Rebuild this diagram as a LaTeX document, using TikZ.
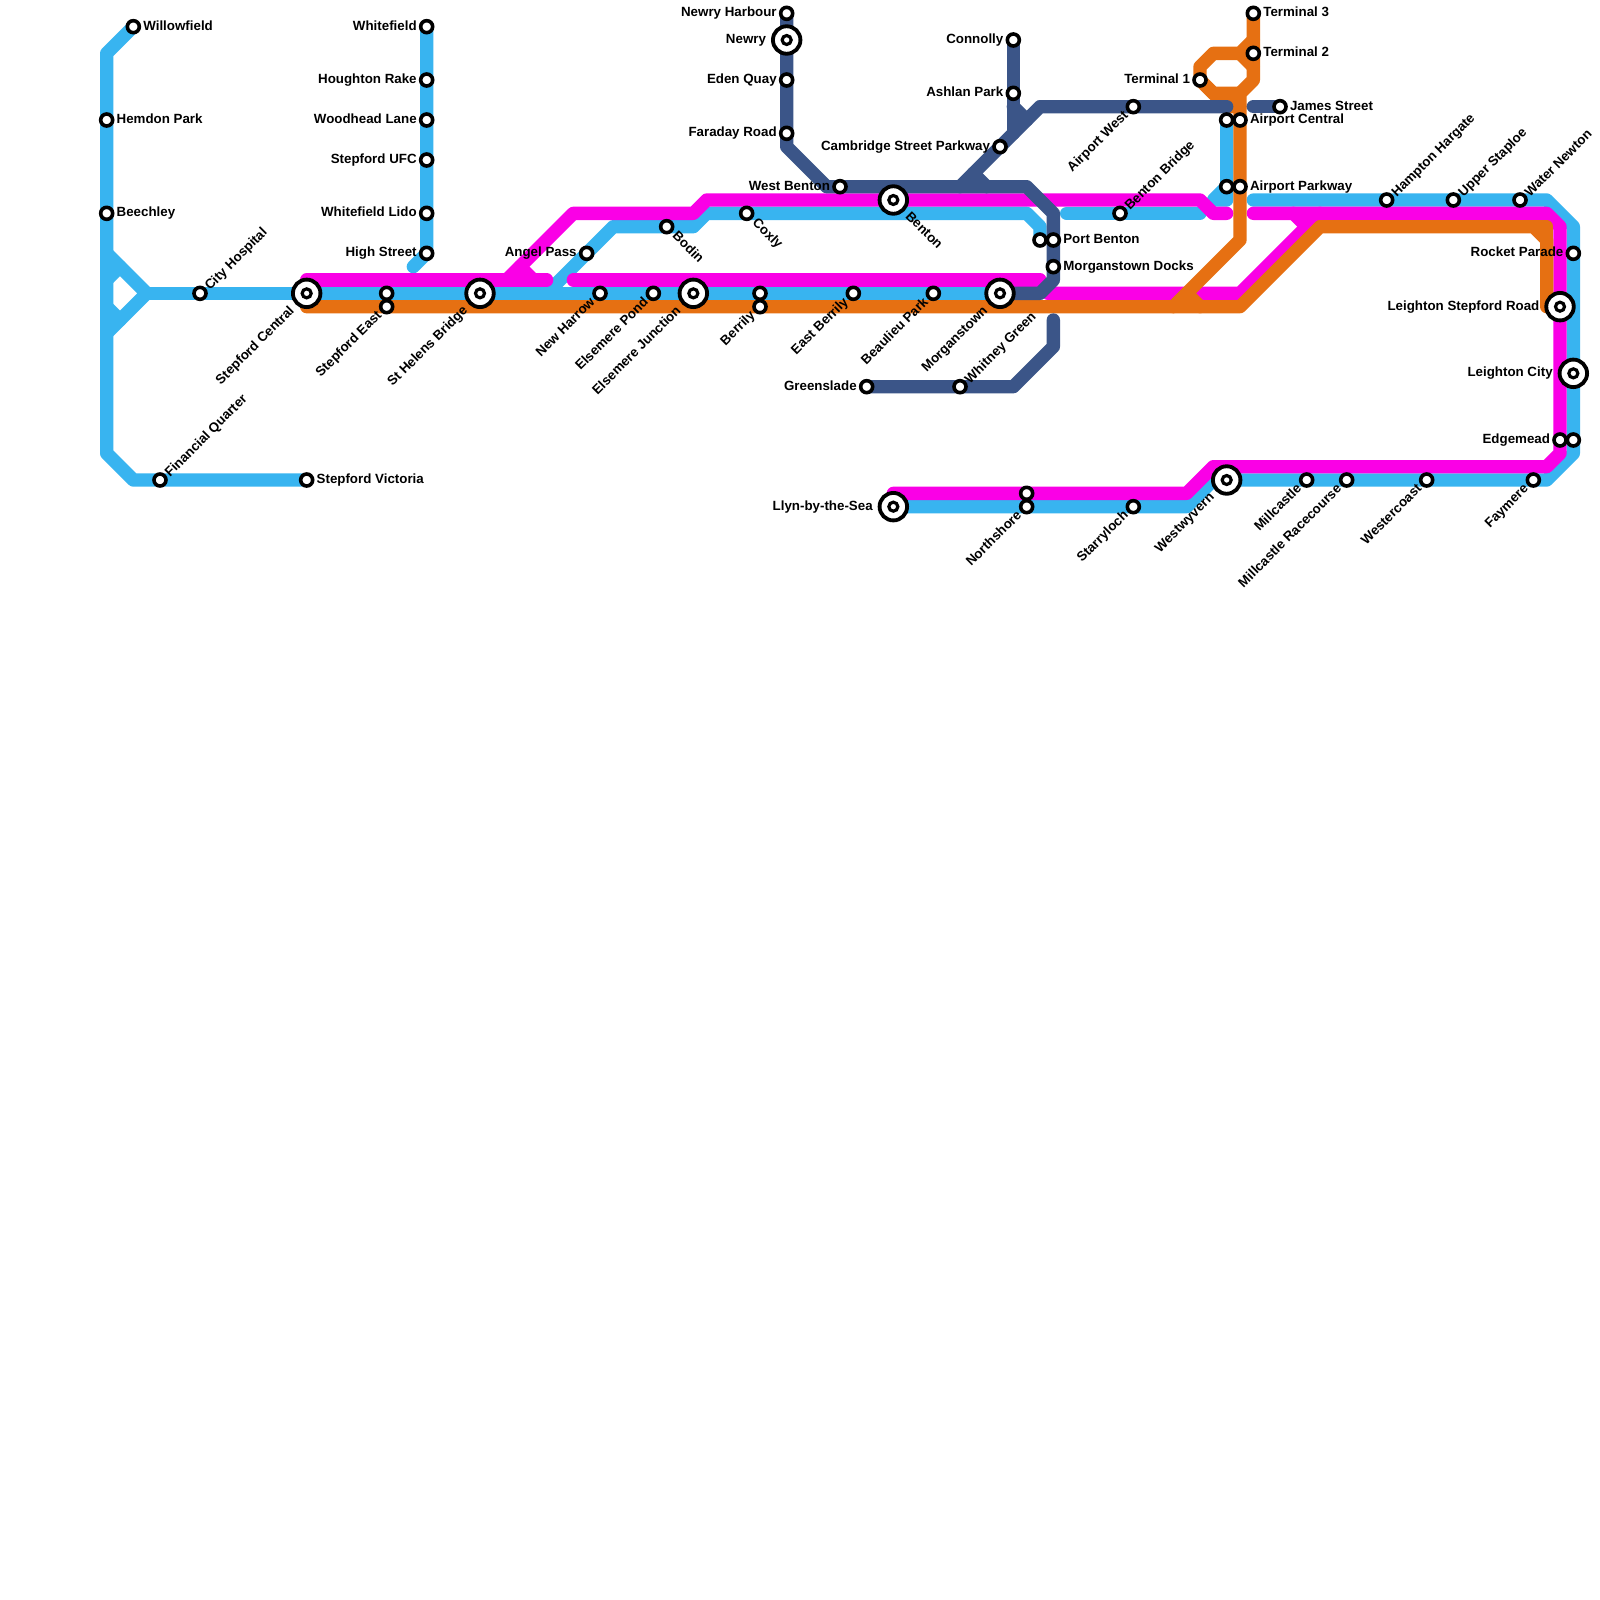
\documentclass[tikz,border=0pt]{standalone}
\usepackage{fontspec}
\setmainfont{Liberation Sans}
\usetikzlibrary{backgrounds}
\definecolor{cblue}{HTML}{38B4F0}
\definecolor{cmag}{HTML}{FA00E6}
\definecolor{corg}{HTML}{E67012}
\definecolor{cnavy}{HTML}{3B5588}
\tikzset{
 x=4mm,y=-4mm,
 every node/.style={font=\fontsize{11.38}{13}\selectfont\bfseries,inner sep=0pt,outer sep=0pt,text=black},
 route/.style={line width=4mm,line cap=round,line join=round},
 blueline/.style={route,draw=cblue},
 magline/.style={route,draw=cmag},
 orgline/.style={route,draw=corg},
 navyline/.style={route,draw=cnavy},
 stop/.style={circle,draw=black,fill=white,line width=1.08mm,minimum size=3.6mm},
 hubo/.style={circle,draw=black,fill=white,line width=1.15mm,minimum size=8.25mm},
 hubi/.style={circle,draw=black,fill=white,line width=.95mm,minimum size=2.7mm},
 tl/.style={anchor=base east,xshift=-3mm,yshift=-1mm},
 tlh/.style={anchor=base east,xshift=-6.2mm,yshift=-1mm},
 tr/.style={anchor=base west,xshift=3mm,yshift=-1mm},
 tur/.style={anchor=base west,xshift=3.05mm,yshift=.75mm,rotate=45},
 tdl/.style={anchor=base east,xshift=-1.35mm,yshift=-2.85mm,rotate=45},
 tdlh/.style={anchor=base east,xshift=-3.55mm,yshift=-5.45mm,rotate=45},
 tdr/.style={anchor=base west,xshift=1.55mm,yshift=-3.05mm,rotate=-45},
 tdrh/.style={anchor=base west,xshift=3.45mm,yshift=-5.15mm,rotate=-45},
}
\newcommand\stn[5]{\node[stop] (#1) at (#2,#3) {}; \node[#4] (#1-t) at (#1.center) {#5};}
\newcommand\stu[3]{\node[stop] (#1) at (#2,#3) {};}
\newcommand\hub[5]{\node[hubo] (#1) at (#2,#3) {}; \node[hubi] (#1-c) at (#2,#3) {}; \node[#4] (#1-t) at (#1.center) {#5};}
\begin{document}
\begin{tikzpicture}
\useasboundingbox (0,0) rectangle (120,120);
% stations
\stn{willow}{10}{2}{tr}{Willowfield}
\stn{hemdon}{8}{9}{tr}{Hemdon Park}
\stn{beech}{8}{16}{tr}{Beechley}
\stn{cityh}{15}{22}{tur}{City Hospital}
\stn{finq}{12}{36}{tur}{Financial Quarter}
\stn{svic}{23}{36}{tr}{Stepford Victoria}
\hub{scen}{23}{22}{tdlh}{Stepford Central}
\stu{seasta}{29}{22}
\stn{seastb}{29}{23}{tdl}{Stepford East}
\hub{shb}{36}{22}{tdlh}{St Helens Bridge}
\stn{wf}{32}{2}{tl}{Whitefield}
\stn{hr}{32}{6}{tl}{Houghton Rake}
\stn{wl}{32}{9}{tl}{Woodhead Lane}
\stn{ufc}{32}{12}{tl}{Stepford UFC}
\stn{lido}{32}{16}{tl}{Whitefield Lido}
\stn{high}{32}{19}{tl}{High Street}
\coordinate (highend) at (31,20);
\stn{angel}{44}{19}{tl}{Angel Pass}
\stn{bodin}{50}{17}{tdr}{Bodin}
\stn{coxly}{56}{16}{tdr}{Coxly}
\stn{newh}{45}{22}{tdl}{New Harrow}
\stn{epond}{49}{22}{tdl}{Elsemere Pond}
\hub{ejun}{52}{22}{tdlh}{Elsemere Junction}
\stu{bera}{57}{22}
\stn{berb}{57}{23}{tdl}{Berrily}
\stn{eber}{64}{22}{tdl}{East Berrily}
\stn{beau}{70}{22}{tdl}{Beaulieu Park}
\hub{morg}{75}{22}{tdlh}{Morganstown}
\stn{nharb}{59}{1}{tl}{Newry Harbour}
\hub{newry}{59}{3}{tlh}{Newry}
\stn{eden}{59}{6}{tl}{Eden Quay}
\stn{farad}{59}{10}{tl}{Faraday Road}
\stn{wben}{63}{14}{tl}{West Benton}
\hub{benton}{67}{15}{tdrh}{Benton}
\stn{conn}{76}{3}{tl}{Connolly}
\stn{ash}{76}{7}{tl}{Ashlan Park}
\stn{camb}{75}{11}{tl}{Cambridge Street Parkway}
\stu{pba}{78}{18}
\stn{pbb}{79}{18}{tr}{Port Benton}
\stn{mdock}{79}{20}{tr}{Morganstown Docks}
\stn{green}{65}{29}{tl}{Greenslade}
\stn{whit}{72}{29}{tur}{Whitney Green}
\stn{awest}{85}{8}{tdl}{Airport West}
\stn{bbr}{84}{16}{tur}{Benton Bridge}
\stn{t1}{90}{6}{tl}{Terminal 1}
\stn{t2}{94}{4}{tr}{Terminal 2}
\stn{t3}{94}{1}{tr}{Terminal 3}
\stn{james}{96}{8}{tr}{James Street}
\stu{aca}{92}{9}
\stn{acb}{93}{9}{tr}{Airport Central}
\stu{apa}{92}{14}
\stn{apb}{93}{14}{tr}{Airport Parkway}
\stn{hamp}{104}{15}{tur}{Hampton Hargate}
\stn{upper}{109}{15}{tur}{Upper Staploe}
\stn{water}{114}{15}{tur}{Water Newton}
\stn{rocket}{118}{19}{tl}{Rocket Parade}
\hub{lsr}{117}{23}{tlh}{Leighton Stepford Road}
\hub{lcity}{118}{28}{tlh}{Leighton City}
\stn{edgea}{117}{33}{tl}{Edgemead}
\stu{edgeb}{118}{33}
\hub{llyn}{67}{38}{tlh}{Llyn-by-the-Sea}
\stu{nsa}{77}{37}
\stn{nsb}{77}{38}{tdl}{Northshore}
\stn{starr}{85}{38}{tdl}{Starryloch}
\hub{westw}{92}{36}{tdlh}{Westwyvern}
\stn{mill}{98}{36}{tdl}{Millcastle}
\stn{race}{101}{36}{tdl}{Millcastle Racecourse}
\stn{wcoast}{107}{36}{tdl}{Westercoast}
\stn{fay}{115}{36}{tdl}{Faymere}
\begin{pgfonlayer}{background}
\fill[white] (0,0) rectangle (120,120);
% blue
\draw[blueline] (willow.center) -- (8,4) -- (8,34) -- (10,36) -- (svic.center);
\draw[blueline] (8,19) -- (11,22) -- (8,25);
\draw[blueline] (8,21) -- (9,20);
\draw[blueline] (8,23) -- (9,24);
\draw[blueline] (11,22) -- (morg.center);
\draw[blueline] (wf.center) -- (high.center) -- (highend);
\draw[blueline] (41,22) -- (46,17) -- (52,17) -- (53,16) -- (77,16) -- (78,17) -- (pba.center);
\draw[blueline] (80,16) -- (bbr.center) -- (90,16);
\draw[blueline] (aca.center) -- (92,15) -- (91,15) -- (apa.center);
\draw[blueline] (94,15) -- (116,15) -- (118,17) -- (118,34) -- (116,36) -- (westw.center) -- (91,36) -- (89,38) -- (llyn.center);
% magenta
\draw[magline] (23,21) -- (41,21);
\draw[magline] (38,21) -- (43,16) -- (52,16) -- (53,15) -- (90,15) -- (91,16) -- (92,16);
\draw[magline] (39,20) -- (40,21);
\draw[magline] (43,21) -- (78,21);
\draw[magline] (78.6,22) -- (93,22) -- (99,16);
\draw[magline] (97,16) -- (98,17);
\draw[magline] (94,16) -- (116,16) -- (117,17) -- (117,34) -- (116,35) -- (91,35) -- (89,37) -- (nsa.center) -- (67,37);
% orange
\draw[orgline] (23,23) -- (93,23) -- (99,17) -- (115,17) -- (116,18) -- (116,23) -- (lsr.center);
\draw[orgline] (115,17) -- (116,17) -- (116,18);
\draw[orgline] (t3.center) -- (94,6) -- (93,7) -- (93,18) -- (88,23);
\draw[orgline] (93,7) -- (91,7) -- (t1.center) -- (90,5) -- (91,4) -- (93,4) -- (94,3);
\draw[orgline] (93,4) -- (94,5);
\draw[orgline] (t1.center) -- (92,8) -- (93,8);
\draw[orgline] (89,22) -- (90,23);
% navy
\draw[navyline] (nharb.center) -- (59,11) -- (62,14) -- (77,14) -- (79,16) -- (79,21) -- (78,22) -- (morg.center);
\draw[navyline] (conn.center) -- (76,10);
\draw[navyline] (76,8) -- (77,9);
\draw[navyline] (92,8) -- (78,8) -- (72,14);
\draw[navyline] (73,13) -- (74,14);
\draw[navyline] (94,8) -- (james.center);
\draw[navyline] (79,24) -- (79,26) -- (76,29) -- (green.center);
\end{pgfonlayer}
\end{tikzpicture}
\end{document}
